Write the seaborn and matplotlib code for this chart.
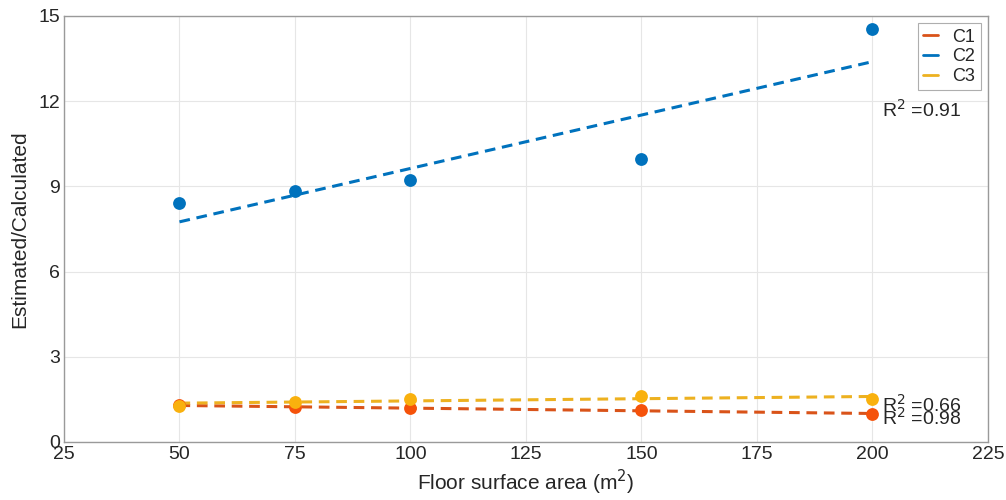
import seaborn as sns
import matplotlib.pyplot as plt
from matplotlib.lines import Line2D

# floor surface area (m2) and estimated/calculated ratio per case
area = [50, 75, 100, 150, 200]
c1 = [1.30, 1.22, 1.18, 1.13, 0.99]
c2 = [8.42, 8.84, 9.22, 9.96, 14.54]
c3 = [1.28, 1.42, 1.51, 1.63, 1.51]

series_names = ["C1", "C2", "C3"]
r2_labels = ["R$^2$ =0.98", "R$^2$ =0.91", "R$^2$ =0.66"]
r2_pos = [(202, 0.84), (202, 11.7), (202, 1.32)]

line_colors = ["#D95319", "#0072BD", "#EDB120"]
point_colors = ["#F5520A", "#0072BD", "#F9B10E"]

sns.set_style("white")
plt.rcParams['font.family'] = ['Liberation Sans', 'DejaVu Sans']

fig = plt.figure(figsize=(10.06, 5.0), dpi=100)
ax = fig.add_axes([0.0636, 0.116, 0.9184, 0.852])

for vals, lc, pc in zip([c1, c2, c3], line_colors, point_colors):
    sns.regplot(x=area, y=vals, ax=ax, ci=None, truncate=True,
                scatter_kws={'s': 85, 'color': pc, 'alpha': 1, 'zorder': 3,
                             'linewidths': 0},
                line_kws={'color': lc, 'lw': 2.2, 'dashes': (3.5, 2.2), 'zorder': 2})

for txt, (tx, ty) in zip(r2_labels, r2_pos):
    ax.text(tx, ty, txt, fontsize=14, va='center', ha='left')

ax.set_xlim(25, 225)
ax.set_ylim(0, 15)
ax.set_xticks(range(25, 226, 25))
ax.set_yticks(range(0, 16, 3))
ax.grid(True, color='#e6e6e6', lw=0.8)
ax.set_axisbelow(True)
ax.tick_params(direction='in', length=5, labelsize=14, color='#333333', pad=3)
for sp in ax.spines.values():
    sp.set_color('#9a9a9a')
    sp.set_linewidth(1)

ax.set_xlabel("Floor surface area (m$^2$)", fontsize=15, labelpad=3)
ax.set_ylabel("Estimated/Calculated", fontsize=15, labelpad=6)

handles = [Line2D([], [], color=c, lw=2) for c in line_colors]
leg = ax.legend(handles, series_names, loc='upper right', fontsize=13,
                handlelength=0.8, handletextpad=0.8, labelspacing=0.15,
                frameon=True, fancybox=False, borderpad=0.3,
                borderaxespad=0.4, edgecolor='#9a9a9a')
leg.get_frame().set_linewidth(0.8)

fig.savefig("out.png", dpi=100)
